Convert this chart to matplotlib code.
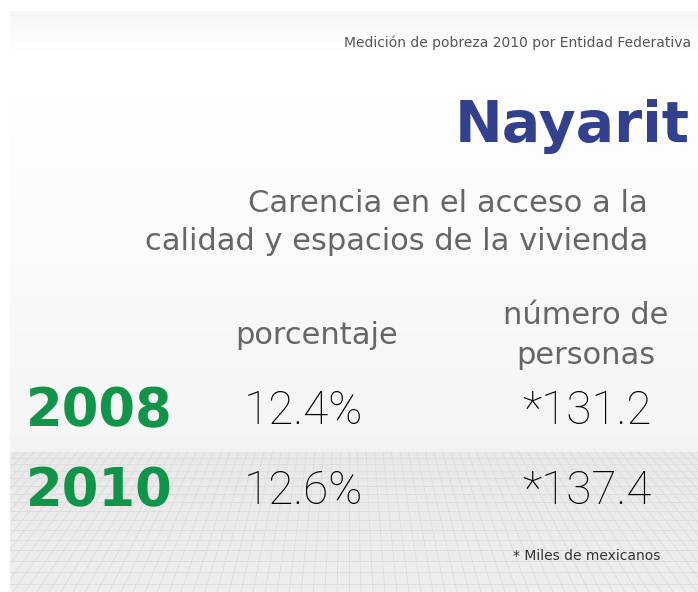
import matplotlib
matplotlib.use("Agg")
import matplotlib.pyplot as plt
import numpy as np

# ---- data ----
years = ["2008", "2010"]
porcentaje = [12.4, 12.6]
personas_miles = [131.2, 137.4]
estado = "Nayarit"
titulo = "Medición de pobreza 2010 por Entidad Federativa"
indicador = ["Carencia en el acceso a la", "calidad y espacios de la vivienda"]
col_headers = ["porcentaje", ["número de", "personas"]]
nota = "* Miles de mexicanos"

W, H = 698, 592
fig = plt.figure(figsize=(W / 100, H / 100), dpi=100)
ax = fig.add_axes([0, 0, 1, 1])
fig.patch.set_facecolor("white")

# panel background gradient
grad = np.concatenate([np.linspace(0.965, 1.0, 50), np.linspace(1.0, 0.955, 391)])
img = np.repeat(grad[:, None], 10, axis=1)
ax.imshow(img, cmap="gray", vmin=0, vmax=1, extent=(9, W, 452, 11), aspect="auto", zorder=0)
# lower gray band
band = np.linspace(0.91, 0.93, 140)
ax.imshow(np.repeat(band[:, None], 10, axis=1), cmap="gray", vmin=0, vmax=1,
          extent=(9, W, H, 452), aspect="auto", zorder=0)
# perspective grid in the lower band
for i in range(-45, 80):
    x0 = 349 + i * 8.5
    x1 = 349 + i * 12
    ln, = ax.plot([x0, x1], [452, H], color="#dcdcdc", lw=0.6, zorder=1)
    ln.set_clip_box(None)
ys = 452 + np.cumsum(np.linspace(6, 12, 16))
for y in ys:
    if y < H:
        ax.plot([9, W], [y, y], color="#dcdcdc", lw=0.6, zorder=1)
ax.set_xlim(0, W)
ax.set_ylim(H, 0)
ax.axis("off")
# white margin on the left to clip grid
ax.fill_between([0, 9], 0, H, color="white", zorder=2)

font = "DejaVu Sans"
gray = "#666666"
ax.text(344, 43, titulo, fontsize=10, color="#555555", family=font, ha="left", va="center", zorder=3)
ax.text(690, 127, estado, fontsize=41, color="#33408e", family="DejaVu Sans", fontweight="bold",
        ha="right", va="center", zorder=3)
ax.text(648, 203, indicador[0], fontsize=22, color=gray, family=font, ha="right", va="center", zorder=3)
ax.text(648, 242, indicador[1], fontsize=22, color=gray, family=font, ha="right", va="center", zorder=3)
ax.text(317, 335, col_headers[0], fontsize=22, color=gray, family=font, ha="center", va="center", zorder=3)
ax.text(586, 316, col_headers[1][0], fontsize=22, color=gray, family=font, ha="center", va="center", zorder=3)
ax.text(586, 355, col_headers[1][1], fontsize=22, color=gray, family=font, ha="center", va="center", zorder=3)

row_y = [411, 491]
for y, yr, p, n in zip(row_y, years, porcentaje, personas_miles):
    ax.text(26, y, yr, fontsize=38, color="#12934a", family="DejaVu Sans", fontweight="bold",
            ha="left", va="center", zorder=3)
    ax.text(303, y, f"{p:.1f}%", fontsize=33, color="#000000", family="Roboto", fontweight="light",
            ha="center", va="center", zorder=3)
    ax.text(652, y, f"*{n:.1f}", fontsize=33, color="#000000", family="Roboto", fontweight="light",
            ha="right", va="center", zorder=3)

ax.text(660, 556, nota, fontsize=10, color="#333333", family=font, ha="right", va="center", zorder=3)

fig.savefig("out.png", dpi=100, facecolor="white")
